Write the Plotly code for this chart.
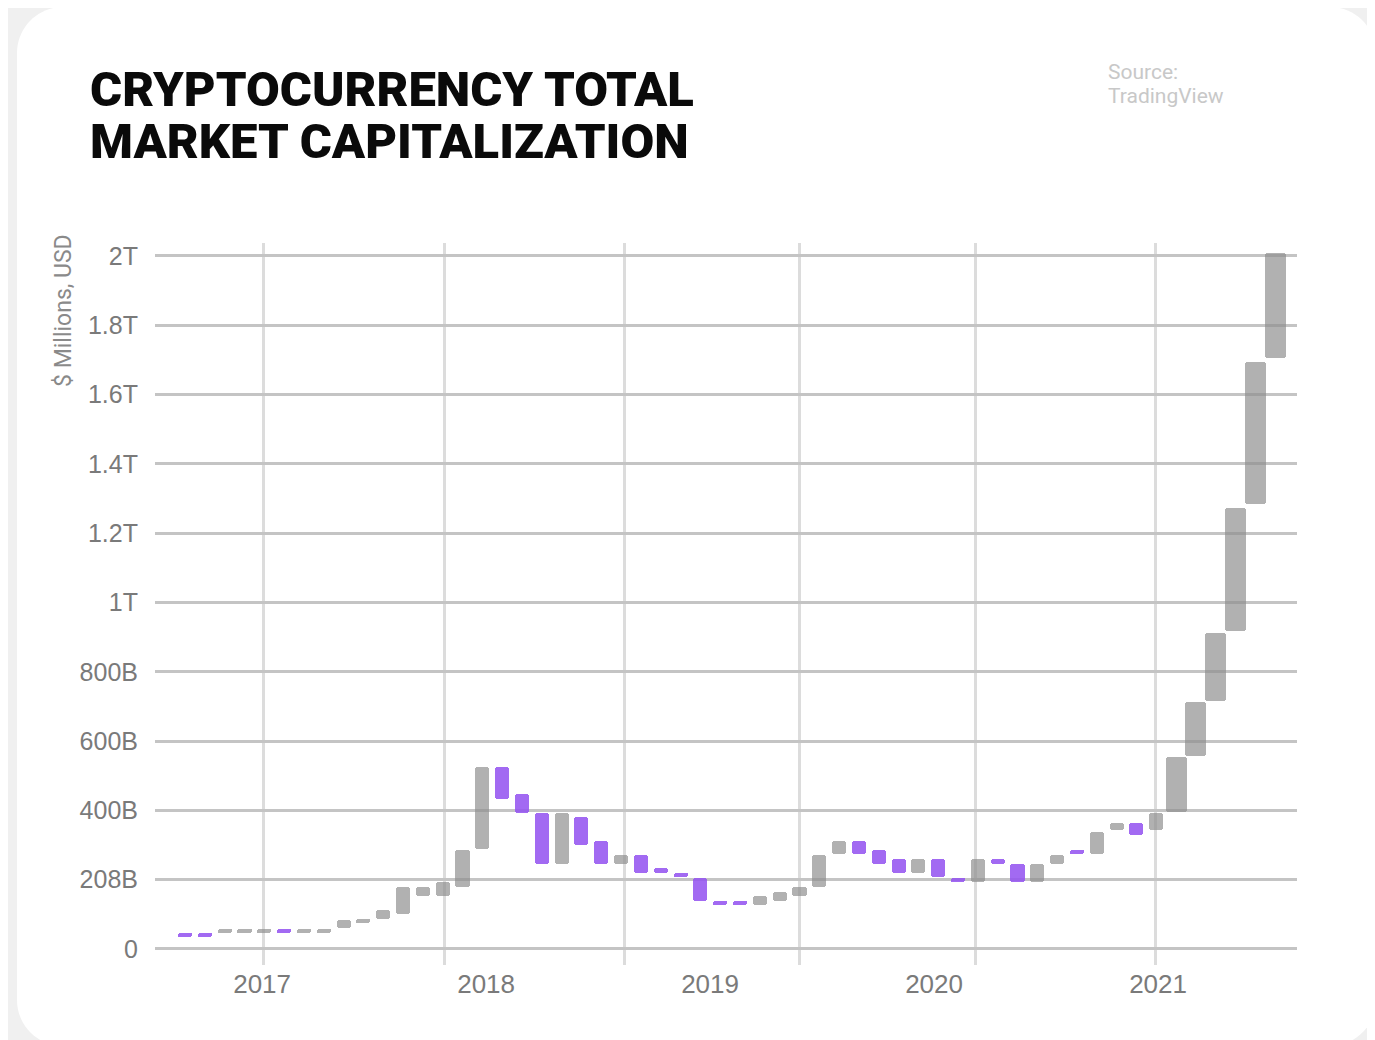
import plotly.graph_objects as go

# ---------------- data ----------------
months = [
    "Sep 2016", "Oct 2016", "Nov 2016", "Dec 2016",
    "Jan 2017", "Feb 2017", "Mar 2017", "Apr 2017", "May 2017", "Jun 2017",
    "Jul 2017", "Aug 2017", "Sep 2017", "Oct 2017", "Nov 2017", "Dec 2017",
    "Jan 2018", "Feb 2018", "Mar 2018", "Apr 2018", "May 2018", "Jun 2018",
    "Jul 2018", "Aug 2018", "Sep 2018", "Oct 2018", "Nov 2018", "Dec 2018",
    "Jan 2019", "Feb 2019", "Mar 2019", "Apr 2019", "May 2019", "Jun 2019",
    "Jul 2019", "Aug 2019", "Sep 2019", "Oct 2019", "Nov 2019", "Dec 2019",
    "Jan 2020", "Feb 2020", "Mar 2020", "Apr 2020", "May 2020", "Jun 2020",
    "Jul 2020", "Aug 2020", "Sep 2020", "Oct 2020", "Nov 2020", "Dec 2020",
    "Jan 2021", "Feb 2021", "Mar 2021", "Apr 2021",
]
# market cap, billions USD
open_vals = [45, 45, 47, 47, 47, 58, 47, 47, 61, 74, 87, 101, 154, 154, 180, 288,
             526, 446, 393, 246, 380, 313, 246, 272, 233, 219, 206, 139, 139, 126,
             139, 153, 180, 273, 313, 286, 259, 219, 259, 206, 193, 259, 245, 193,
             246, 286, 273, 343, 365, 343, 396, 556, 716, 918, 1283, 1706]
close_vals = [34, 34, 58, 58, 58, 47, 58, 58, 84, 86, 112, 179, 179, 193, 286, 526,
              434, 393, 246, 393, 300, 246, 272, 219, 220, 207, 139, 127, 127, 152,
              165, 179, 272, 313, 273, 246, 219, 259, 207, 193, 259, 246, 193, 245,
              272, 273, 339, 365, 329, 392, 553, 713, 913, 1272, 1694, 2010]

y_tickvals = [0, 200, 400, 600, 800, 1000, 1200, 1400, 1600, 1800, 2000]
y_ticktext = ["0", "208B", "400B", "600B", "800B", "1T", "1.2T", "1.4T", "1.6T", "1.8T", "2T"]

year_labels = ["2017", "2018", "2019", "2020", "2021"]
year_label_pos = [3.89, 15.19, 26.49, 37.79, 49.09]
vgrid_pos = [3.94, 13.07, 22.15, 30.98, 39.86, 48.94]

# ---------------- style ----------------
OFF = 8                      # page body margin (figure starts at 8,8 on screen)
W, H = 1375 - OFF, 1040 - OFF
PL, PR, PT, PB = 155, 1297, 243, 965  # plot area in screen pixels
GRAY = "rgba(140,140,140,0.68)"
PURPLE = "rgba(147,81,240,0.86)"
NARROW, WIDE, WIDE_FROM = 0.71, 1.06, 50


def px(x):
    return (x - PL) / (PR - PL)


def py(y):
    return (PB - y) / (PB - PT)


xs = list(range(len(months)))
bases = [min(o, c) for o, c in zip(open_vals, close_vals)]
heights = [abs(c - o) for o, c in zip(open_vals, close_vals)]
colors = [GRAY if c >= o else PURPLE for o, c in zip(open_vals, close_vals)]
widths = [WIDE if i >= WIDE_FROM else NARROW for i in xs]

fig = go.Figure(
    go.Bar(
        x=xs,
        y=heights,
        base=bases,
        width=widths,
        marker=dict(color=colors, line=dict(width=0), cornerradius=3),
        customdata=[[m, o, c] for m, o, c in zip(months, open_vals, close_vals)],
        hovertemplate="%{customdata[0]}<br>Open: %{customdata[1]}B<br>Close: %{customdata[2]}B<extra></extra>",
    )
)

# card background (screen pixel coords)
L, T, R, B, r = 17, 7, 1376, 1046, 46
k = 0.5523 * r
path = (
    f"M {px(L + r)} {py(T)} L {px(R - r)} {py(T)} "
    f"C {px(R - r + k)} {py(T)} {px(R)} {py(T + r - k)} {px(R)} {py(T + r)} "
    f"L {px(R)} {py(B - r)} "
    f"C {px(R)} {py(B - r + k)} {px(R - r + k)} {py(B)} {px(R - r)} {py(B)} "
    f"L {px(L + r)} {py(B)} "
    f"C {px(L + r - k)} {py(B)} {px(L)} {py(B - r + k)} {px(L)} {py(B - r)} "
    f"L {px(L)} {py(T + r)} "
    f"C {px(L)} {py(T + r - k)} {px(L + r - k)} {py(T)} {px(L + r)} {py(T)} Z"
)

TITLE_FONT = dict(family="Roboto, sans-serif", size=49, color="#0a0a0a", weight=900)
SRC_FONT = dict(family="Roboto, sans-serif", size=21, color="#c8c8c8")

fig.update_layout(
    width=W,
    height=H,
    margin=dict(l=PL - OFF, r=W - (PR - OFF), t=PT - OFF, b=H - (PB - OFF), pad=0),
    paper_bgcolor="#f0f0f0",
    plot_bgcolor="rgba(0,0,0,0)",
    showlegend=False,
    bargap=0,
    shapes=[dict(type="path", path=path, xref="paper", yref="paper",
                 fillcolor="white", line=dict(width=0), layer="below")],
    xaxis=dict(
        range=[-1.514, 56.10],
        tickmode="array",
        tickvals=year_label_pos,
        ticktext=year_labels,
        showgrid=False,
        zeroline=False,
        showline=False,
        ticks="",
        ticklabelstandoff=1,
        tickfont=dict(family="Liberation Sans, Arial, sans-serif", size=26, color="#7a7a7a"),
        minor=dict(tickmode="array", tickvals=vgrid_pos, showgrid=True,
                   gridcolor="#dcdcdc", gridwidth=3, ticks=""),
        fixedrange=True,
    ),
    yaxis=dict(
        range=[-46.2, 2037.5],
        tickmode="array",
        tickvals=y_tickvals,
        ticktext=y_ticktext,
        showgrid=True,
        gridcolor="#c4c4c4",
        gridwidth=2.5,
        zeroline=False,
        showline=False,
        ticks="",
        ticklabelstandoff=16,
        tickfont=dict(family="Liberation Sans, Arial, sans-serif", size=25, color="#7a7a7a"),
        fixedrange=True,
    ),
    annotations=[
        dict(text="CRYPTOCURRENCY TOTAL", x=px(88), y=py(89), xref="paper", yref="paper",
             xanchor="left", yanchor="middle", showarrow=False, font=TITLE_FONT),
        dict(text="MARKET CAPITALIZATION", x=px(88), y=py(142), xref="paper", yref="paper",
             xanchor="left", yanchor="middle", showarrow=False, font=TITLE_FONT),
        dict(text="Source:", x=px(1106), y=py(72), xref="paper", yref="paper",
             xanchor="left", yanchor="middle", showarrow=False, font=SRC_FONT),
        dict(text="TradingView", x=px(1106), y=py(96), xref="paper", yref="paper",
             xanchor="left", yanchor="middle", showarrow=False, font=SRC_FONT),
        dict(text="$ Millions, USD", x=px(63), y=py(311), xref="paper", yref="paper",
             xanchor="center", yanchor="middle", textangle=-90, showarrow=False,
             font=dict(family="Roboto, sans-serif", size=23, color="#8a8a8a")),
    ],
)

fig.write_html("out.html")
